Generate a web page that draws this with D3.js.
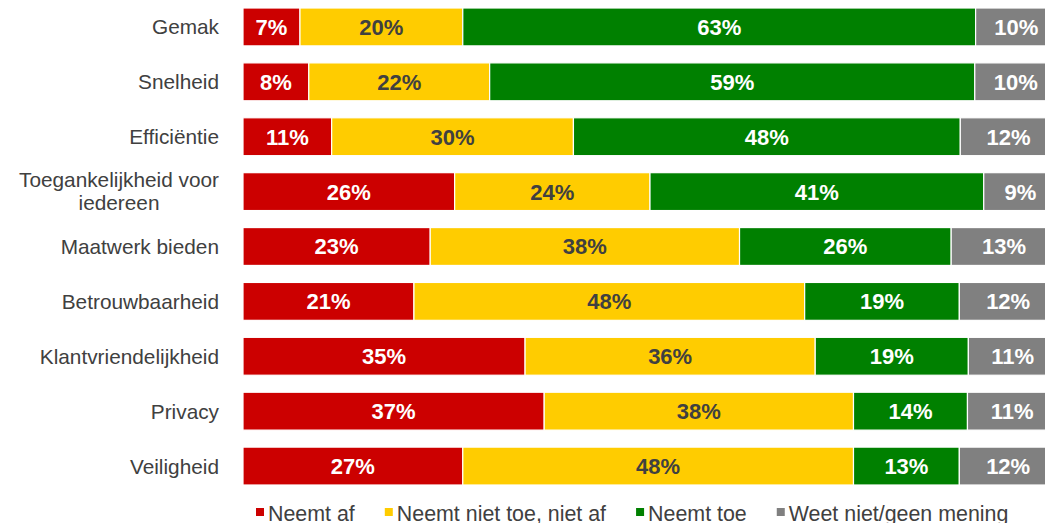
<!DOCTYPE html>
<html>
<head>
<meta charset="utf-8">
<script src="https://cdn.jsdelivr.net/npm/d3@7"></script>
<style>
  body { margin: 0; background: #fff; }
  svg { display: block; font-family: Arial, "Liberation Sans", sans-serif; }
</style>
</head>
<body>
<svg id="chart"></svg>
<script>
const categories = [
  "Gemak",
  "Snelheid",
  "Efficiëntie",
  "Toegankelijkheid voor iedereen",
  "Maatwerk bieden",
  "Betrouwbaarheid",
  "Klantvriendelijkheid",
  "Privacy",
  "Veiligheid",
];
const seriesNames = [
  "Neemt af",
  "Neemt niet toe, niet af",
  "Neemt toe",
  "Weet niet/geen mening",
];
const neemtAf = [7, 8, 11, 26, 23, 21, 35, 37, 27];
const neutraal = [20, 22, 30, 24, 38, 48, 36, 38, 48];
const neemtToe = [63, 59, 48, 41, 26, 19, 19, 14, 13];
const weetNiet = [10, 10, 12, 9, 13, 12, 11, 11, 12];
const colors = ["#cc0000", "#ffcc00", "#008000", "#808080"];
const labelColors = ["#ffffff", "#404040", "#ffffff", "#ffffff"];

const width = 1045,
  height = 523;

const svg = d3.select("#chart").attr("width", width).attr("height", height);

const rows = categories.map((c, i) => ({
  cat: c,
  [seriesNames[0]]: neemtAf[i],
  [seriesNames[1]]: neutraal[i],
  [seriesNames[2]]: neemtToe[i],
  [seriesNames[3]]: weetNiet[i],
}));

const stacked = d3.stack().keys(seriesNames).offset(d3.stackOffsetExpand)(rows);

const x = d3.scaleLinear().domain([0, 1]).range([243, 1057]);
const y = d3
  .scaleBand()
  .domain(categories)
  .range([8, 485])
  .paddingInner(0.31)
  .paddingOuter(0);

// Balken
const layers = svg
  .append("g")
  .selectAll("g")
  .data(stacked)
  .join("g")
  .attr("fill", (d, i) => colors[i]);

layers
  .selectAll("rect")
  .data((d) => d)
  .join("rect")
  .attr("x", (d) => x(d[0]))
  .attr("y", (d) => y(d.data.cat))
  .attr("width", (d) => x(d[1]) - x(d[0]))
  .attr("height", y.bandwidth())
  .attr("stroke", "#ffffff")
  .attr("stroke-width", 1.2);

// Waardelabels
stacked.forEach((layer, i) => {
  svg
    .append("g")
    .selectAll("text")
    .data(layer)
    .join("text")
    .attr("x", (d) => (x(d[0]) + x(d[1])) / 2)
    .attr("y", (d) => y(d.data.cat) + y.bandwidth() / 2)
    .attr("dy", "0.36em")
    .attr("text-anchor", "middle")
    .attr("font-size", "22px")
    .attr("font-weight", "bold")
    .attr("fill", labelColors[i])
    .text((d) => d.data[layer.key] + "%");
});

// Categorie-labels (lange label over twee regels, gecentreerd)
const catLines = {
  "Toegankelijkheid voor iedereen": ["Toegankelijkheid voor", "iedereen"],
};
svg
  .append("g")
  .selectAll("text")
  .data(categories)
  .join("text")
  .attr("y", (d) => y(d) + y.bandwidth() / 2)
  .attr("font-size", "20.8px")
  .attr("fill", "#404040")
  .each(function (d) {
    const t = d3.select(this);
    const lines = catLines[d];
    if (!lines) {
      t.attr("x", 219).attr("dy", "0.36em").attr("text-anchor", "end").text(d);
      return;
    }
    t.attr("text-anchor", "middle");
    const spans = lines.map((l, k) =>
      t
        .append("tspan")
        .attr("dy", k === 0 ? "-0.2em" : "1.1em")
        .text(l)
    );
    const w = spans[0].node().getComputedTextLength();
    spans.forEach((s) => s.attr("x", 219 - w / 2));
  });

// Legenda
const legend = svg.append("g").attr("transform", "translate(256,513)");
let lx = 0;
seriesNames.forEach((name, i) => {
  const g = legend.append("g").attr("transform", `translate(${lx},0)`);
  g.append("rect")
    .attr("x", 0)
    .attr("y", -5)
    .attr("width", 8)
    .attr("height", 8)
    .attr("fill", colors[i]);
  const t = g
    .append("text")
    .attr("x", 12)
    .attr("y", 0)
    .attr("dy", "0.36em")
    .attr("font-size", "21.4px")
    .attr("fill", "#404040")
    .text(name);
  lx += 12 + t.node().getComputedTextLength() + 30;
});
</script>
</body>
</html>
